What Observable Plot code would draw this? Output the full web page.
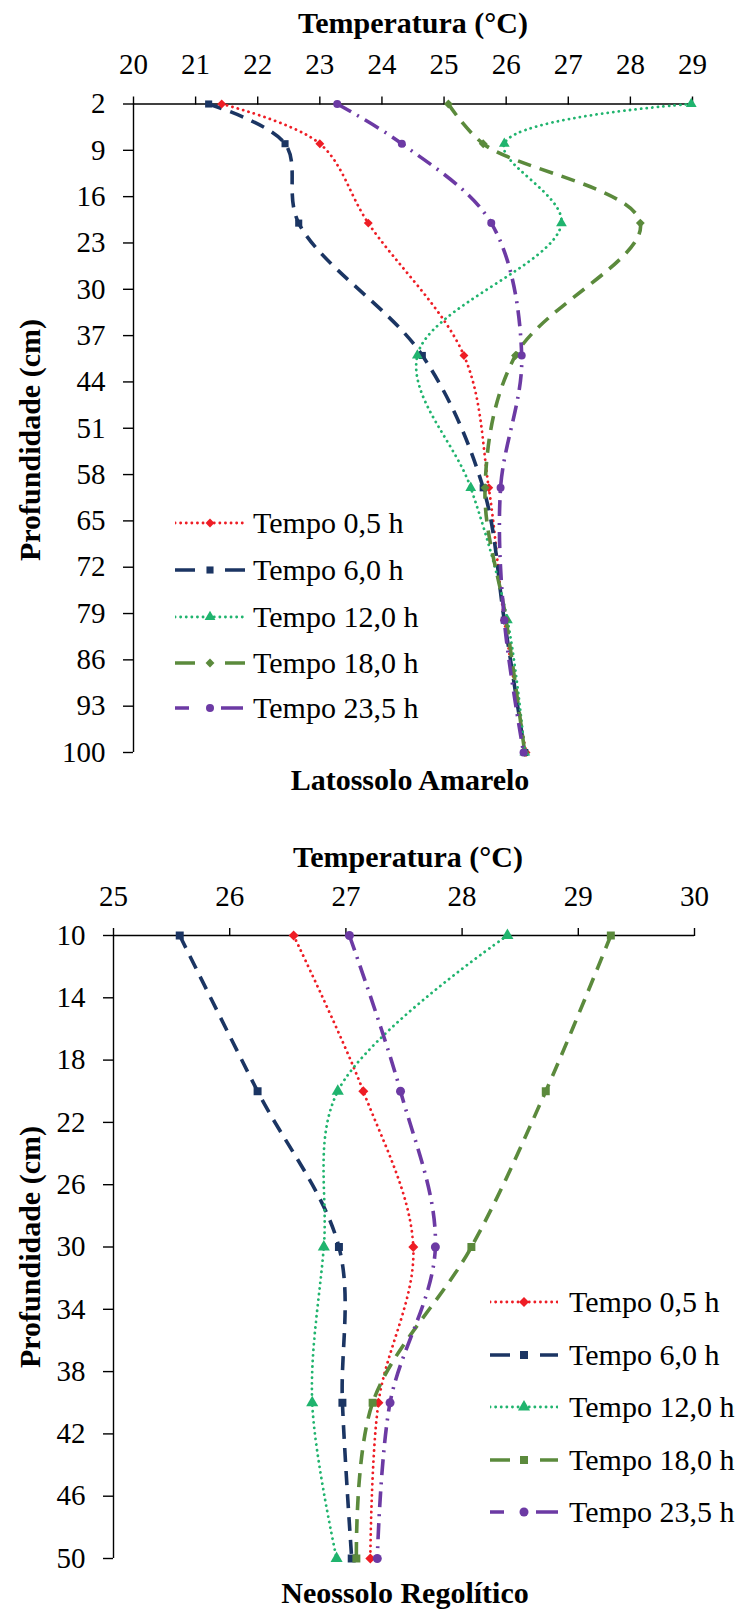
<!DOCTYPE html>
<html><head><meta charset="utf-8">
<script src="https://cdn.jsdelivr.net/npm/d3@7"></script>
<script src="https://cdn.jsdelivr.net/npm/@observablehq/plot@0.6"></script>
<style>
body{margin:0;background:#fff;overflow:hidden;}
#page{position:relative;width:744px;height:1612px;font-family:"Liberation Serif","Times New Roman",serif;color:#000;overflow:hidden;}
.lbl{position:absolute;font-weight:bold;font-size:30px;white-space:nowrap;transform:translate(-50%,-50%);line-height:1;}
.ylbl{transform:translate(-50%,-50%) rotate(-90deg);}
.chart{position:absolute;left:0;}
.chart svg text{font-family:"Liberation Serif","Times New Roman",serif !important;}
.leg-row{position:absolute;display:flex;align-items:center;white-space:nowrap;font-size:30px;line-height:1;transform:translateY(-50%);}
</style></head><body><div id="page"></div>
<script>
const series = ["Tempo 0,5 h", "Tempo 6,0 h", "Tempo 12,0 h", "Tempo 18,0 h", "Tempo 23,5 h"];

// Latossolo Amarelo
const latDepths = [2, 8, 20, 40, 60, 80, 100];
const latT05  = [21.42, 23.00, 23.78, 25.32, 25.72, 25.97, 26.32];
const latT60  = [21.21, 22.44, 22.66, 24.65, 25.63, 25.97, 26.30];
const latT120 = [28.98, 25.97, 26.89, 24.57, 25.43, 26.02, 26.30];
const latT180 = [25.07, 25.63, 28.16, 26.15, 25.66, 26.00, 26.30];
const latT235 = [23.28, 24.32, 25.76, 26.25, 25.91, 25.97, 26.28];
const latXTicks = [20, 21, 22, 23, 24, 25, 26, 27, 28, 29];
const latYTicks = [2, 9, 16, 23, 30, 37, 44, 51, 58, 65, 72, 79, 86, 93, 100];

// Neossolo Regolítico
const neoDepths = [10, 20, 30, 40, 50];
const neoT05  = [26.55, 27.15, 27.58, 27.28, 27.21];
const neoT60  = [25.57, 26.24, 26.94, 26.97, 27.05];
const neoT120 = [28.39, 26.93, 26.81, 26.71, 26.92];
const neoT180 = [29.28, 28.72, 28.08, 27.23, 27.09];
const neoT235 = [27.03, 27.47, 27.77, 27.38, 27.27];
const neoXTicks = [25, 26, 27, 28, 29, 30];
const neoYTicks = [10, 14, 18, 22, 26, 30, 34, 38, 42, 46, 50];

const colors = ["#ee1d25", "#1b3563", "#20b46e", "#5b8a3c", "#6c3aa4"];
const widths = [2.8, 3.6, 2.8, 3.6, 3.6];
const dashes = ["0.1,5.5", "14,9", "0.1,5.5", "14,9", "16,7,2,7"];
const legDashes = ["0.1,5.5", "20,30", "0.1,5.5", "20,30", "14,20,2,10,22"];
const caps = ["round", "butt", "round", "butt", "butt"];
const symbolsLat = ["diamond2", "square", "triangle", "diamond2", "circle"];
const symbolsNeo = ["diamond2", "square", "triangle", "square", "circle"];

const page = document.getElementById("page");

function makeData(depths, valueLists) {
  const rows = [];
  valueLists.forEach((vals, i) => vals.forEach((v, j) => rows.push({serie: series[i], idx: i, t: v, d: depths[j]})));
  return rows;
}

function chart(cfg) {
  const data = makeData(cfg.depths, cfg.values);
  const marks = [
    Plot.ruleY([cfg.yDomain[0]], {stroke: "#000", strokeWidth: 1.4}),
    Plot.ruleX([cfg.xDomain[0]], {stroke: "#000", strokeWidth: 1.4}),
    Plot.axisX({anchor: "top", ticks: cfg.xTicks, tickSize: 8, tickPadding: 22, tickFormat: d => String(d), stroke: "#000", strokeWidth: 1.4, fontSize: 29}),
    Plot.axisY({anchor: "left", ticks: cfg.yTicks, tickSize: 10, tickPadding: 18, tickFormat: d => String(d), stroke: "#000", strokeWidth: 1.4, fontSize: 29})
  ];
  series.forEach((s, i) => {
    const rows = data.filter(r => r.idx === i);
    marks.push(Plot.line(rows, {x: "t", y: "d", curve: "catmull-rom", stroke: colors[i], strokeWidth: widths[i], strokeDasharray: dashes[i], strokeLinecap: caps[i]}));
  });
  series.forEach((s, i) => {
    const rows = data.filter(r => r.idx === i);
    marks.push(Plot.dot(rows, {x: "t", y: "d", symbol: () => cfg.symbols[i], r: cfg.r, fill: colors[i], stroke: "none"}));
  });
  const svg = Plot.plot({
    width: 744, height: cfg.height,
    marginTop: cfg.mt, marginBottom: cfg.mb, marginLeft: cfg.ml, marginRight: cfg.mr,
    x: {domain: cfg.xDomain, label: null},
    y: {domain: cfg.yDomain, reverse: true, label: null},
    symbol: {type: "identity"},
    style: {fontFamily: "'Liberation Serif', 'Times New Roman', serif", fontSize: "29px", color: "#000", background: "transparent", overflow: "visible"},
    marks
  });
  const wrap = document.createElement("div");
  wrap.className = "chart";
  wrap.style.top = cfg.top + "px";
  wrap.appendChild(svg);
  page.appendChild(wrap);
}

function label(text, x, y, extra) {
  const el = document.createElement("div");
  el.className = "lbl" + (extra ? " " + extra : "");
  el.textContent = text;
  el.style.left = x + "px";
  el.style.top = y + "px";
  page.appendChild(el);
}

function legend(x, ys, syms, r, w, gap) {
  const symMap = {diamond2: d3.symbolDiamond2, square: d3.symbolSquare, triangle: d3.symbolTriangle, circle: d3.symbolCircle};
  series.forEach((s, i) => {
    const row = document.createElement("div");
    row.className = "leg-row";
    row.style.left = x + "px";
    row.style.top = ys[i] + "px";
    const h = 20;
    const svg = d3.create("svg").attr("width", w).attr("height", h).style("margin-right", gap + "px");
    svg.append("line").attr("x1", 0).attr("x2", w).attr("y1", h / 2).attr("y2", h / 2)
      .attr("stroke", colors[i]).attr("stroke-width", widths[i]).attr("stroke-dasharray", legDashes[i]).attr("stroke-linecap", caps[i]);
    svg.append("path").attr("transform", `translate(${w / 2},${h / 2})`)
      .attr("d", d3.symbol(symMap[syms[i]], Math.PI * r * r)()).attr("fill", colors[i]);
    row.appendChild(svg.node());
    const t = document.createElement("span");
    t.textContent = s;
    row.appendChild(t);
    page.appendChild(row);
  });
}

// Top chart: Latossolo Amarelo
chart({top: 0, height: 790, mt: 103.5, mb: 38, ml: 133, mr: 52,
  depths: latDepths, values: [latT05, latT60, latT120, latT180, latT235],
  xDomain: [20, 29], yDomain: [2, 100], xTicks: latXTicks, yTicks: latYTicks,
  symbols: symbolsLat, r: 4});
label("Temperatura (°C)", 413, 23);
label("Profundidade (cm)", 30, 440, "ylbl");
label("Latossolo Amarelo", 410, 780);
legend(175, [523, 570, 617, 663, 708], symbolsLat, 4, 70, 8);

// Bottom chart: Neossolo Regolítico
chart({top: 820, height: 760, mt: 115, mb: 22, ml: 113, mr: 50,
  depths: neoDepths, values: [neoT05, neoT60, neoT120, neoT180, neoT235],
  xDomain: [25, 30], yDomain: [10, 50], xTicks: neoXTicks, yTicks: neoYTicks,
  symbols: symbolsNeo, r: 4.5});
label("Temperatura (°C)", 408, 857);
label("Profundidade (cm)", 30, 1247, "ylbl");
label("Neossolo Regolítico", 405, 1593);
legend(490, [1302, 1355, 1407, 1460, 1512], symbolsNeo, 4.5, 68, 11);
</script></body></html>
